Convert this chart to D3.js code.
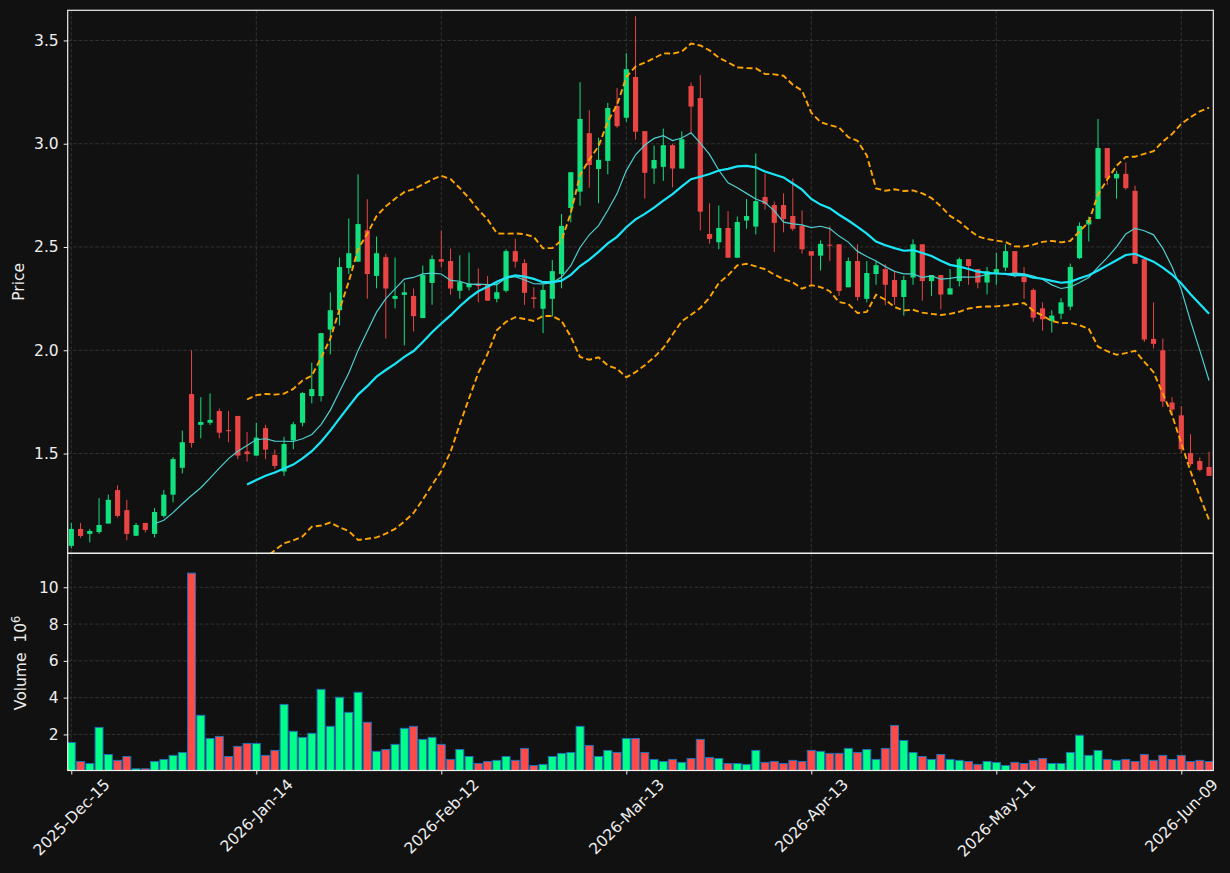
<!DOCTYPE html>
<html>
<head>
<meta charset="utf-8">
<script src="https://cdn.jsdelivr.net/npm/d3@7"></script>
<style>
  body { margin: 0; background: #111111; }
  svg { display: block; font-family: "DejaVu Sans", sans-serif; }
</style>
</head>
<body>
<script>
// OHLC, one entry per trading day (index = position on the x axis)
var open = [1.053,1.135,1.111,1.120,1.161,1.323,1.226,1.102,1.164,1.111,
  1.198,1.301,1.431,1.788,1.639,1.649,1.706,1.613,1.682,1.510,
  1.490,1.623,1.493,1.413,1.563,1.649,1.778,1.778,2.100,2.194,
  2.398,2.429,2.581,2.360,2.451,2.249,2.268,2.263,2.156,2.326,
  2.441,2.432,2.288,2.305,2.318,2.321,2.249,2.288,2.480,2.422,
  2.256,2.201,2.249,2.369,2.689,2.768,3.051,2.878,2.917,3.183,
  3.126,3.323,3.061,2.880,2.888,2.993,2.880,3.279,3.221,2.563,
  2.523,2.592,2.448,2.628,2.599,2.742,2.703,2.703,2.650,2.602,
  2.480,2.458,2.511,2.513,2.305,2.432,2.249,2.369,2.393,2.340,
  2.258,2.352,2.513,2.335,2.364,2.270,2.335,2.441,2.393,2.328,
  2.369,2.400,2.480,2.357,2.292,2.203,2.141,2.177,2.211,2.446,
  2.609,2.636,2.979,2.832,2.854,2.772,2.441,2.055,2.000,1.747,
  1.685,1.502,1.464,1.435];
var high = [1.164,1.164,1.135,1.284,1.301,1.346,1.276,1.164,1.164,1.236,
  1.323,1.483,1.611,2.000,1.773,1.791,1.718,1.706,1.682,1.604,
  1.649,1.639,1.519,1.581,1.653,1.797,1.940,2.083,2.280,2.449,
  2.638,2.852,2.731,2.551,2.467,2.449,2.328,2.299,2.410,2.460,
  2.580,2.492,2.460,2.473,2.396,2.360,2.328,2.489,2.540,2.441,
  2.305,2.319,2.437,2.660,2.862,3.298,3.162,3.029,3.198,3.269,
  3.438,3.617,3.061,2.991,3.073,3.000,3.060,3.296,3.332,2.712,
  2.701,2.674,2.647,2.732,2.953,2.856,2.720,2.760,2.832,2.677,
  2.480,2.532,2.600,2.513,2.449,2.513,2.432,2.432,2.417,2.386,
  2.360,2.537,2.513,2.364,2.364,2.393,2.449,2.441,2.393,2.403,
  2.472,2.513,2.480,2.403,2.300,2.232,2.194,2.252,2.420,2.619,
  2.647,3.120,2.979,2.869,2.909,2.797,2.441,2.232,2.057,1.773,
  1.730,1.593,1.481,1.509];
var low = [1.041,1.092,1.070,1.111,1.161,1.190,1.080,1.102,1.118,1.094,
  1.190,1.264,1.404,1.529,1.574,1.639,1.574,1.555,1.473,1.461,
  1.490,1.473,1.426,1.392,1.521,1.632,1.743,1.752,1.980,2.120,
  2.369,2.429,2.249,2.300,2.057,2.203,2.023,2.091,2.156,2.220,
  2.400,2.269,2.249,2.290,2.232,2.240,2.232,2.280,2.400,2.220,
  2.203,2.083,2.163,2.300,2.619,2.700,2.787,2.712,2.852,3.077,
  3.106,3.020,2.734,2.806,2.820,2.789,2.880,3.054,2.580,2.516,
  2.489,2.448,2.448,2.588,2.561,2.681,2.475,2.571,2.578,2.468,
  2.317,2.386,2.432,2.263,2.305,2.240,2.232,2.317,2.218,2.220,
  2.168,2.317,2.240,2.263,2.198,2.270,2.309,2.317,2.300,2.271,
  2.317,2.383,2.352,2.249,2.138,2.095,2.086,2.150,2.194,2.441,
  2.527,2.636,2.801,2.734,2.777,2.419,2.040,2.009,1.726,1.683,
  1.503,1.440,1.414,1.392];
var close = [1.135,1.101,1.125,1.154,1.276,1.198,1.111,1.154,1.130,1.217,
  1.301,1.473,1.555,1.551,1.653,1.663,1.601,1.609,1.490,1.497,
  1.577,1.519,1.440,1.546,1.642,1.793,1.812,2.083,2.194,2.403,
  2.470,2.611,2.369,2.470,2.299,2.263,2.281,2.165,2.364,2.441,
  2.429,2.299,2.330,2.323,2.311,2.240,2.281,2.480,2.429,2.278,
  2.249,2.292,2.383,2.602,2.862,3.120,2.897,2.922,3.173,3.085,
  3.361,3.058,2.859,2.921,2.993,2.880,3.022,3.180,2.671,2.539,
  2.592,2.448,2.621,2.650,2.722,2.708,2.617,2.635,2.588,2.489,
  2.458,2.515,2.508,2.287,2.432,2.258,2.374,2.412,2.317,2.258,
  2.340,2.513,2.335,2.364,2.270,2.300,2.441,2.408,2.328,2.383,
  2.393,2.480,2.369,2.330,2.158,2.150,2.168,2.232,2.403,2.602,
  2.631,2.979,2.832,2.854,2.785,2.419,2.052,2.031,1.752,1.713,
  1.521,1.449,1.421,1.392];
// volume in millions
var volume = [1.56,0.53,0.42,2.38,0.91,0.59,0.80,0.13,0.13,0.53,
  0.64,0.86,1.02,10.77,3.04,1.78,1.89,0.80,1.35,1.51,
  1.51,0.86,1.13,3.63,2.17,1.84,2.06,4.45,2.44,4.02,
  3.20,4.29,2.66,1.08,1.18,1.46,2.33,2.44,1.73,1.84,
  1.46,0.64,1.18,0.80,0.42,0.53,0.59,0.80,0.59,1.24,
  0.31,0.37,0.80,0.97,1.02,2.44,1.40,0.80,1.13,1.02,
  1.78,1.78,1.02,0.64,0.53,0.64,0.48,0.69,1.73,0.75,
  0.69,0.42,0.42,0.37,1.13,0.48,0.53,0.42,0.59,0.53,
  1.13,1.08,0.97,0.97,1.24,1.02,1.18,0.64,1.24,2.49,
  1.67,1.02,0.80,0.64,0.91,0.64,0.59,0.53,0.37,0.53,
  0.48,0.31,0.48,0.42,0.59,0.69,0.42,0.42,1.02,1.95,
  0.86,1.13,0.64,0.59,0.64,0.53,0.91,0.59,0.86,0.64,
  0.86,0.53,0.59,0.53];

var tickIdx = [0, 20, 40, 60, 80, 100, 120];
var tickLabels = ["2025-Dec-15","2026-Jan-14","2026-Feb-12","2026-Mar-13","2026-Apr-13","2026-May-11","2026-Jun-09"];
var priceTicks = [1.5, 2.0, 2.5, 3.0, 3.5];
var volTicks = [2, 4, 6, 8, 10];

// moving average / bollinger from the closes
function sma(arr, n){
  return arr.map(function(v, i){
    if (i < n - 1) return null;
    return d3.mean(arr.slice(i - n + 1, i + 1));
  });
}
function band(arr, n, k){
  return arr.map(function(v, i){
    if (i < n - 1) return null;
    var s = arr.slice(i - n + 1, i + 1);
    var m = d3.mean(s);
    var sd = Math.sqrt(d3.mean(s, function(d){ return (d - m) * (d - m); }));
    return m + k * sd;
  });
}

function draw_chart(){
  var W = 1230, H = 873;
  var left = 67.7, right = 1213.3, top = 10.3, mid = 553.3, bottom = 770.5;
  var upC = "#12e07e", downC = "#e94545";
  var vUp = "#00ff88", vDown = "#ff4a4a";
  var gridC = "#3b3b3b", txtC = "#eeeeee";
  var fs = "15.5px";

  var svg = d3.select("body").append("svg")
    .attr("width", W).attr("height", H);
  svg.append("rect").attr("width", W).attr("height", H).attr("fill", "#111111");

  var x = d3.scaleLinear().domain([-0.39, 123.46]).range([left, right]);
  var y = d3.scaleLinear().domain([1.017, 3.646]).range([mid, top]);
  var yv = d3.scaleLinear()
    .domain([0.3 * d3.min(volume), 1.1 * d3.max(volume)])
    .range([bottom, mid]);

  svg.append("clipPath").attr("id", "clipP")
    .append("rect").attr("x", left).attr("y", top).attr("width", right - left).attr("height", mid - top);
  svg.append("clipPath").attr("id", "clipV")
    .append("rect").attr("x", left).attr("y", mid).attr("width", right - left).attr("height", bottom - mid);

  // grid
  var grid = svg.append("g").attr("stroke", gridC).attr("stroke-width", 0.8)
    .attr("stroke-dasharray", "3.5,2");
  priceTicks.forEach(function(t){
    grid.append("line").attr("x1", left).attr("x2", right).attr("y1", y(t)).attr("y2", y(t));
  });
  volTicks.forEach(function(t){
    grid.append("line").attr("x1", left).attr("x2", right).attr("y1", yv(t)).attr("y2", yv(t));
  });
  tickIdx.forEach(function(t){
    grid.append("line").attr("x1", x(t)).attr("x2", x(t)).attr("y1", top).attr("y2", mid);
    grid.append("line").attr("x1", x(t)).attr("x2", x(t)).attr("y1", mid).attr("y2", bottom);
  });

  var idx = d3.range(close.length);
  var step = x(1) - x(0);

  // candles
  var pg = svg.append("g").attr("clip-path", "url(#clipP)");
  var cg = pg.selectAll("g.candle").data(idx).enter().append("g");
  cg.append("line")
    .attr("x1", function(i){ return x(i); })
    .attr("x2", function(i){ return x(i); })
    .attr("y1", function(i){ return y(high[i]); })
    .attr("y2", function(i){ return y(low[i]); })
    .attr("stroke", function(i){ return close[i] >= open[i] ? upC : downC; })
    .attr("stroke-width", 1);
  cg.append("rect")
    .attr("x", function(i){ return x(i) - step * 0.28; })
    .attr("width", step * 0.56)
    .attr("y", function(i){ return y(Math.max(open[i], close[i])); })
    .attr("height", function(i){ return Math.max(1, Math.abs(y(open[i]) - y(close[i]))); })
    .attr("fill", function(i){ return close[i] >= open[i] ? upC : downC; });

  // mav + bands
  var ma10 = sma(close, 10), ma20 = sma(close, 20);
  var bbUp = band(close, 20, 2), bbLo = band(close, 20, -2);
  function path(arr){
    return d3.line()
      .defined(function(i){ return arr[i] != null; })
      .x(function(i){ return x(i); })
      .y(function(i){ return y(arr[i]); })(idx);
  }
  pg.append("path").attr("d", path(ma10)).attr("fill", "none")
    .attr("stroke", "#4fcfcf").attr("stroke-width", 1.2);
  pg.append("path").attr("d", path(ma20)).attr("fill", "none")
    .attr("stroke", "#19e6f8").attr("stroke-width", 2.2);
  [bbUp, bbLo].forEach(function(b){
    pg.append("path").attr("d", path(b)).attr("fill", "none")
      .attr("stroke", "#ffa500").attr("stroke-width", 1.9)
      .attr("stroke-dasharray", "6,3.2");
  });

  // volume
  var vg = svg.append("g").attr("clip-path", "url(#clipV)");
  vg.selectAll("rect").data(idx).enter().append("rect")
    .attr("x", function(i){ return x(i) - step * 0.43; })
    .attr("width", step * 0.86)
    .attr("y", function(i){ return yv(volume[i]); })
    .attr("height", function(i){ return bottom - yv(volume[i]); })
    .attr("fill", function(i){ return close[i] >= open[i] ? vUp : vDown; })
    .attr("stroke", "#1f6fb4").attr("stroke-width", 1);

  // frames
  svg.append("rect").attr("x", left).attr("y", top).attr("width", right - left).attr("height", mid - top)
    .attr("fill", "none").attr("stroke", "#f0f0f0").attr("stroke-width", 1.2);
  svg.append("rect").attr("x", left).attr("y", mid).attr("width", right - left).attr("height", bottom - mid)
    .attr("fill", "none").attr("stroke", "#f0f0f0").attr("stroke-width", 1.2);

  // axes
  function styleAxis(g){
    g.select(".domain").remove();
    g.selectAll(".tick line").attr("stroke", "#f0f0f0").attr("stroke-width", 1);
    g.selectAll(".tick text").attr("fill", txtC).style("font-size", fs)
      .style("font-family", "DejaVu Sans, sans-serif");
  }
  svg.append("g").attr("transform", "translate(" + left + ",0)")
    .call(d3.axisLeft(y).tickValues(priceTicks).tickSize(4).tickPadding(5).tickFormat(d3.format(".1f")))
    .call(styleAxis);
  svg.append("g").attr("transform", "translate(" + left + ",0)")
    .call(d3.axisLeft(yv).tickValues(volTicks).tickSize(4).tickPadding(5).tickFormat(d3.format("d")))
    .call(styleAxis);
  var gx = svg.append("g").attr("transform", "translate(0," + bottom + ")")
    .call(d3.axisBottom(x).tickValues(tickIdx).tickSize(4)
      .tickFormat(function(d, i){ return tickLabels[i]; }))
    .call(styleAxis);
  gx.selectAll(".tick text").each(function(){
    var L = this.getComputedTextLength();
    var half = (L + 11.5) * Math.SQRT1_2 / 2;
    d3.select(this).attr("x", 0).attr("y", 0).attr("dy", null)
      .attr("text-anchor", "middle").attr("dominant-baseline", "central")
      .attr("transform", "translate(0," + (7.5 + half) + ") rotate(-45)");
  });

  // axis titles
  svg.append("text").attr("transform", "translate(24," + ((top + mid) / 2) + ") rotate(-90)")
    .attr("text-anchor", "middle").attr("fill", txtC).style("font-size", fs)
    .text("Price");
  var vt = svg.append("text").attr("transform", "translate(26," + ((mid + bottom) / 2 + 1) + ") rotate(-90)")
    .attr("text-anchor", "middle").attr("fill", txtC).style("font-size", fs)
    .style("white-space", "pre");
  vt.append("tspan").text("Volume  10");
  vt.append("tspan").attr("dy", "-0.5em").style("font-size", "11.5px").text("6");
}

draw_chart();
</script>
</body>
</html>
